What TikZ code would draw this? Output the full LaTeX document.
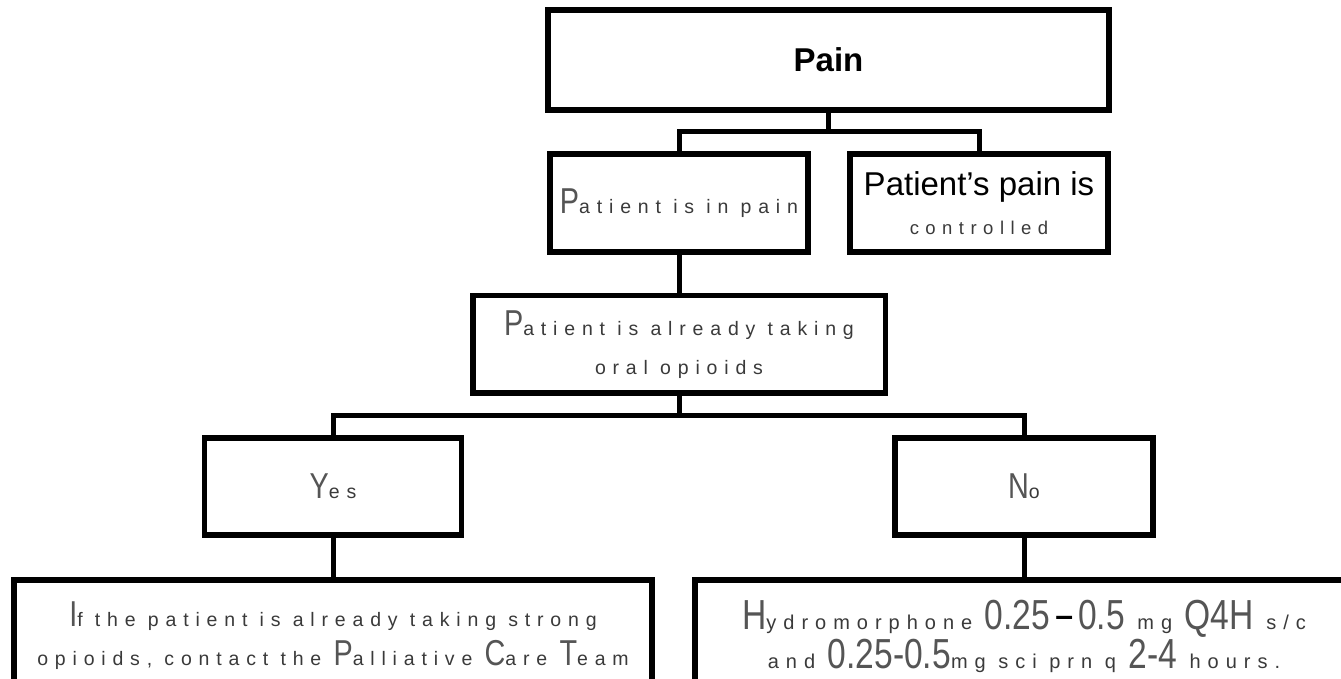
\documentclass[tikz,border=0pt]{standalone}
\usepackage{fontspec}
\setmainfont{Liberation Sans}
\newfontfamily\capfont[FakeStretch=0.8]{Liberation Sans}
\newfontfamily\spfont[LetterSpace=35]{Liberation Sans}
\definecolor{capc}{HTML}{555555}
\definecolor{smc}{HTML}{3A3A3A}
\newcommand{\Bg}[2][36]{{\color{capc}\capfont\fontsize{#1}{39}\selectfont#2}}
\newcommand{\Sm}[2][19.5]{{\color{smc}\spfont\fontsize{#1}{39}\selectfont#2}}
\newcommand{\Dsh}{\hspace{5pt}\raisebox{3pt}{\fontsize{32}{39}\selectfont\bfseries\color{black}–}\hspace{5pt}}
\tikzset{
  box/.style={draw=black, line width=5.5pt, fill=white, inner sep=0pt,
    align=center, font=\fontsize{19.5}{39}\selectfont},
  conn/.style={draw=black, line width=5pt}
}
\begin{document}
\begin{tikzpicture}[x=1pt,y=-1pt]
\useasboundingbox (0,0) rectangle (1341,679);
\clip (0,0) rectangle (1341,679);
% boxes
\node[box, minimum width=561pt, minimum height=100pt] (pain) at (828.5,60)
  {\fontsize{33}{39}\selectfont\bfseries Pain};
\node[box, minimum width=258pt, minimum height=98pt] (inpain) at (679,203)
  {\Bg{P}\Sm{atient is in pain}};
\node[box, minimum width=258pt, minimum height=98pt] (ctrl) at (979,203)
  {{\fontsize{33}{39}\selectfont Patient’s pain is}\\\Sm[18.5]{controlled}};
\node[box, minimum width=412.5pt, minimum height=97.5pt] (opi) at (679,344.25)
  {\Bg{P}\Sm{atient is already taking}\\\Sm{oral opioids}};
\node[box, minimum width=257pt, minimum height=97pt] (yes) at (333,486.5)
  {\Bg{Y}\Sm{es}};
\node[box, minimum width=258pt, minimum height=97pt] (no) at (1024,486.5)
  {\Bg{N}\Sm{o}};
\node[box, minimum width=638pt, minimum height=112pt] (bl) at (333,636)
  {\Bg{I}\Sm{f the patient is already taking strong}\\
   \Sm{opioids, contact the }\Bg{P}\Sm{alliative }\Bg{C}\Sm{are }\Bg{T}\Sm{eam}};
\node[box, minimum width=658pt, minimum height=112pt] (br) at (1024,636)
  {\Bg[42]{H}\Sm[20]{ydromorphone }\Bg[42]{0.25}\Dsh\Bg[42]{0.5}\Sm[20]{ mg }\Bg[42]{Q4H}\Sm[20]{ s/c}\\
   \Sm[20]{and }\Bg[42]{0.25-0.5}\Sm[20]{mg sci prn q }\Bg[42]{2-4}\Sm[20]{ hours.}};
% junctions
\coordinate (j1) at (828.5,132);
\coordinate (j2) at (679,415);
\draw[conn] (pain.south) -- (j1);
\draw[conn] (inpain.north) |- (j1) -| (ctrl.north);
\draw[conn] (inpain.south) -- (opi.north);
\draw[conn] (opi.south) -- (j2);
\draw[conn] (yes.north) |- (j2) -| (no.north);
\draw[conn] (yes.south) -- (bl.north);
\draw[conn] (no.south) -- (br.north);
\end{tikzpicture}
\end{document}
